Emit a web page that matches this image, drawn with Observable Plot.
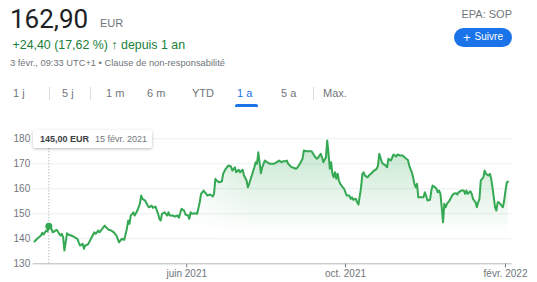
<!DOCTYPE html>
<html><head><meta charset="utf-8">
<script src="https://cdn.jsdelivr.net/npm/d3@7"></script>
<script src="https://cdn.jsdelivr.net/npm/@observablehq/plot@0.6"></script>
<style>
body{margin:0;background:#fff;width:537px;height:282px;overflow:hidden;position:relative;font-family:Arial,"Liberation Sans",sans-serif;}
.abs{position:absolute;white-space:nowrap;line-height:1;}
.tab{position:absolute;white-space:nowrap;line-height:1;font-size:11px;color:#70757a;top:88px;}
.sep{position:absolute;width:1px;top:87px;height:13px;background:#dadce0;}
#chart{position:absolute;left:0;top:117px;}
#tip{position:absolute;left:33px;top:130px;width:119px;height:18px;background:#fff;box-shadow:0 1px 3px rgba(60,64,67,0.35);border-radius:2px;z-index:2;}
#tip span{position:absolute;top:5px;font-size:9px;line-height:1;white-space:nowrap;}
</style></head><body>
<div class="abs" style="left:10px;top:5.5px;font-family:Roboto,Arial,sans-serif;font-size:26px;color:#202124;">162,90</div>
<div class="abs" style="left:100px;top:18px;font-size:11px;color:#70757a;">EUR</div>
<div class="abs" style="left:12.5px;top:38.6px;font-size:12.4px;color:#188038;">+24,40 (17,62 %) <b>↑</b> depuis 1 an</div>
<div class="abs" style="left:10px;top:58.8px;font-size:9.3px;color:#70757a;">3 févr., 09:33 UTC+1 • Clause de non-responsabilité</div>
<div class="abs" style="right:25px;top:9px;font-size:11px;color:#70757a;">EPA: SOP</div>
<div class="abs" style="left:454px;top:27.5px;width:58px;height:19px;border-radius:10px;background:#1a73e8;color:#fff;font-size:10px;display:flex;align-items:center;justify-content:center;"><span style="font-size:13px;margin-right:4px;">+</span>Suivre</div>

<div class="tab" style="left:13px;">1 j</div>
<div class="sep" style="left:49px;"></div>
<div class="tab" style="left:62px;">5 j</div>
<div class="sep" style="left:90px;"></div>
<div class="tab" style="left:106px;">1 m</div>
<div class="tab" style="left:147px;">6 m</div>
<div class="tab" style="left:192px;">YTD</div>
<div class="tab" style="left:237px;color:#1a73e8;">1 a</div>
<div class="abs" style="left:235px;top:104px;width:23px;height:3px;border-radius:2px 2px 0 0;background:#1a73e8;"></div>
<div class="tab" style="left:281px;">5 a</div>
<div class="sep" style="left:313px;"></div>
<div class="tab" style="left:323px;">Max.</div>

<div id="chart"></div>
<div id="tip"><span style="left:7px;font-weight:bold;color:#3c4043;">145,00 EUR</span><span style="left:62px;color:#70757a;">15 févr. 2021</span></div>

<script>
// Data (days since 3 Feb 2021, closing price in EUR)
const startDate = "2021-02-03";
const dayOffsets = [1,3,6,7,8,10,11,12,14,15,17,18,20,21,22,23,24,26,27,29,31,32,34,35,36,38,39,40,42,43,45,47,48,50,51,53,55,56,58,60,62,64,66,67,68,70,72,73,74,75,77,78,79,80,82,83,84,86,88,89,91,92,94,96,97,98,99,101,103,104,105,107,109,111,112,114,116,117,119,120,121,122,124,126,128,129,131,132,134,136,138,139,140,141,143,145,146,148,150,152,153,155,156,158,159,161,162,164,165,166,168,170,171,172,173,174,175,176,178,180,182,185,187,189,191,192,194,195,196,198,200,202,203,205,207,208,210,212,214,216,218,219,221,222,223,225,226,227,228,229,230,231,232,233,234,235,236,238,239,240,241,243,244,245,246,248,249,250,252,253,254,255,257,258,260,262,264,265,266,268,269,271,272,273,275,276,277,279,280,282,284,286,288,289,291,292,293,294,295,296,298,300,301,302,303,305,306,307,309,310,311,312,313,314,315,316,317,318,320,322,323,325,326,327,329,331,332,333,334,336,337,338,340,341,342,343,344,345,346,347,348,350,351,352,353,354,355,356,357,358,360,361,362,363,364,365];
const prices = [138.9,140.0,141.3,142.4,141.7,143.3,142.9,145.0,144.0,142.6,143.3,143.6,142.0,141.3,142.0,140.6,135.3,142.2,141.7,141.3,140.9,140.6,140.0,138.6,137.3,138.0,136.0,137.3,137.7,138.6,140.6,142.6,142.0,143.3,142.6,144.0,145.3,144.6,143.6,143.3,142.6,141.3,138.6,139.3,140.0,139.6,144.0,147.3,146.0,149.3,150.6,149.3,150.2,151.3,154.0,157.3,156.0,155.3,153.3,152.6,153.3,152.4,152.9,150.0,148.0,147.3,150.0,150.6,149.3,150.6,149.3,149.3,148.9,149.3,148.4,152.0,151.3,149.7,149.3,148.0,150.6,150.0,150.2,150.0,154.6,158.0,159.3,158.6,157.3,157.7,156.9,158.0,164.0,163.3,162.6,163.0,166.0,168.0,169.3,168.9,167.3,168.6,166.6,167.6,166.6,167.6,165.3,163.3,160.6,162.0,165.3,168.6,170.6,170.0,174.6,170.6,166.2,168.6,171.3,170.6,170.0,170.0,170.6,171.3,170.6,171.0,171.0,171.3,170.0,168.9,168.4,168.0,168.4,170.0,172.0,175.3,175.0,175.0,175.0,173.3,172.0,172.4,174.0,172.6,170.6,172.6,179.3,174.0,168.0,170.6,166.0,164.6,166.6,164.0,166.0,163.3,162.0,160.6,160.0,158.6,157.3,157.3,156.0,156.6,155.6,156.0,154.6,153.7,160.6,166.0,166.6,165.3,164.6,165.3,166.2,167.3,168.0,169.3,174.0,170.6,170.0,169.3,168.6,172.0,171.3,172.6,173.7,172.9,173.7,173.3,173.3,172.3,171.5,169.3,166.6,164.6,162.0,160.6,162.0,156.6,156.6,156.6,158.6,157.3,155.3,155.6,159.3,161.3,160.6,160.0,158.6,159.3,158.0,152.6,146.6,154.0,152.6,154.0,155.3,157.3,158.0,158.2,157.7,158.6,159.3,159.3,158.0,159.3,158.0,159.0,158.0,156.0,154.6,152.6,154.6,156.0,163.3,164.0,164.6,167.3,166.0,165.3,166.0,164.0,160.6,156.6,152.6,151.3,154.6,154.6,153.3,152.6,155.3,159.3,162.6,162.9];
const yTicks = [130,140,150,160,170,180];
const xTickDates = ["2021-06-01","2021-10-01","2022-02-01"];
const xTickLabels = ["juin 2021","oct. 2021","févr. 2022"];
const hoverDate = "2021-02-15";
const hoverPrice = 145.0;
const domainEnd = "2022-02-06";

const DAY = 864e5;
const base = new Date(startDate).getTime();
const data = dayOffsets.map((d, i) => ({date: new Date(base + d * DAY), price: prices[i]}));
const hover = [{date: new Date(hoverDate), price: hoverPrice}];
const labelMap = new Map(xTickDates.map((s, i) => [+new Date(s), xTickLabels[i]]));
const green = "#34a853";

const chart = Plot.plot({
  width: 537, height: 165,
  marginTop: 21.3, marginBottom: 18.7, marginLeft: 32.7, marginRight: 25.5,
  style: {fontFamily: "Arial, 'Liberation Sans', sans-serif", fontSize: "10px", color: "#70757a", background: "transparent"},
  x: {type: "utc", domain: [new Date(startDate), new Date(domainEnd)], ticks: xTickDates.map(s => new Date(s)),
      tickFormat: d => labelMap.get(+d), tickSize: 4, tickPadding: 2, label: null},
  y: {domain: [130, 180], ticks: yTicks, tickSize: 0, tickPadding: 3, label: null},
  marks: [
    Plot.ruleY(yTicks.slice(1), {stroke: "#eceff1"}),
    Plot.areaY(data, {x: "date", y1: 130, y2: "price", fill: "url(#areaGrad)"}),
    Plot.ruleY([130], {stroke: "#b5b9bd"}),
    Plot.ruleX(hover, {x: "date", y1: 130, y2: 180, stroke: "#9aa0a6", strokeDasharray: "1,2"}),
    Plot.lineY(data, {x: "date", y: "price", stroke: green, strokeWidth: 2}),
    Plot.dot(hover, {x: "date", y: "price", r: 3.5, fill: green})
  ]
});

const yS = chart.scale("y"), xS = chart.scale("x");
const defs = document.createElementNS("http://www.w3.org/2000/svg", "defs");
defs.innerHTML = `<linearGradient id="areaGrad" gradientUnits="userSpaceOnUse" x1="0" x2="0" y1="${yS.apply(180)}" y2="${yS.apply(142)}">
<stop offset="0" stop-color="${green}" stop-opacity="0.3"/><stop offset="1" stop-color="${green}" stop-opacity="0"/></linearGradient>
<linearGradient id="maskGrad" gradientUnits="userSpaceOnUse" x1="${xS.apply(new Date("2021-05-20"))}" x2="${xS.apply(new Date("2021-07-20"))}" y1="0" y2="0">
<stop offset="0" stop-color="#fff" stop-opacity="0"/><stop offset="1" stop-color="#fff" stop-opacity="1"/></linearGradient>
<mask id="areaMask" maskUnits="userSpaceOnUse" x="0" y="0" width="537" height="165"><rect x="0" y="0" width="537" height="165" fill="url(#maskGrad)"/></mask>`;
chart.prepend(defs);
const areaG = chart.querySelector('[aria-label="area"]');
if (areaG) areaG.setAttribute("mask", "url(#areaMask)");
document.getElementById("chart").appendChild(chart);
</script>
</body></html>
